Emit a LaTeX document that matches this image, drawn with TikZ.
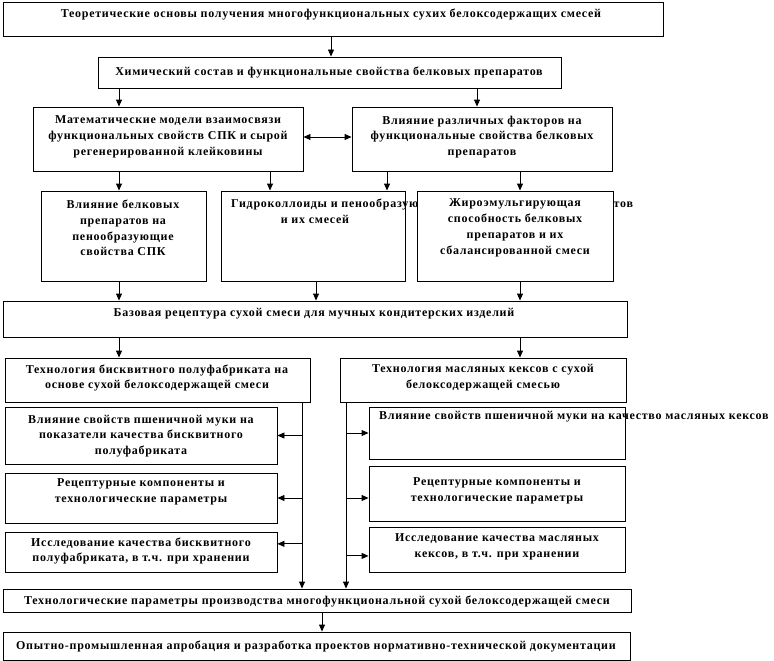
\documentclass[tikz,border=0pt]{standalone}
\usepackage{fontspec}
\setmainfont{Liberation Serif}[LetterSpace=6]
\usetikzlibrary{arrows.meta,calc,fit}
\begin{document}
\begin{tikzpicture}[x=1pt,y=-1pt,
  bx/.style={draw, line width=0.9pt, fill=white, inner sep=0pt},
  tx/.style={font=\bfseries\fontsize{12}{15.8}\selectfont, align=center, inner sep=0pt},
  arr/.style={line width=0.9pt, -{Triangle[length=7pt,width=6pt]}},
  arrb/.style={line width=0.9pt, {Triangle[length=7pt,width=6pt]}-{Triangle[length=7pt,width=6pt]}},
  ln/.style={line width=0.9pt}]
\useasboundingbox[fill=white] (0,0) rectangle (774,661);

% boxes
\node[bx, fit={(3,2) (663,36)}] (top) {};
\node[bx, fit={(98,57) (561,88)}] (chem) {};
\node[bx, fit={(33,107) (303,171)}] (math) {};
\node[bx, fit={(352,107) (612,171)}] (fact) {};
\node[bx, fit={(41,191) (206,281)}] (foam) {};
\node[bx, fit={(221,191) (405,281)}] (hydro) {};
\node[tx, anchor=west] (thydro1) at (231,204) {Гидроколлоиды и пенообразующие свойства белковых препаратов};
\node[bx, fit={(417,191) (613,281)}] (fat) {};
\node[bx, fit={(3,301) (627,337)}] (base) {};
\node[bx, fit={(5,358) (310,402)}] (bisc) {};
\node[bx, fit={(340,358) (626,402)}] (cake) {};
\node[bx, fit={(5,407) (277,464)}] (la) {};
\node[bx, fit={(5,473) (277,523)}] (lb) {};
\node[bx, fit={(5,532) (277,572)}] (lc) {};
\node[bx, fit={(369,407) (625,459)}] (ra) {};
\node[bx, fit={(369,466) (625,521)}] (rb) {};
\node[bx, fit={(369,527) (625,572)}] (rc) {};
\node[bx, fit={(3,589) (631,612)}] (tp) {};
\node[bx, fit={(3,632) (630,660)}] (fin) {};

% texts
\node[tx] (ttop) at (331,15) {Теоретические основы получения многофункциональных сухих белоксодержащих смесей};
\node[tx] (tchem) at (329,72) {Химический состав и функциональные свойства белковых препаратов};
\node[tx] (tmath) at (168,137) {Математические модели взаимосвязи\\функциональных свойств СПК и сырой\\регенерированной клейковины};
\node[tx] (tfact) at (482,137) {Влияние различных факторов на\\функциональные свойства белковых\\препаратов};
\node[tx] (tfoam) at (123,228) {Влияние белковых\\препаратов на\\пенообразующие\\свойства СПК};
\node[tx] (thydro2) at (315,219) {и их смесей};
\node[tx] (tfat) at (515,228) {Жироэмульгирующая\\способность белковых\\препаратов и их\\сбалансированной смеси};
\node[tx] (tbase) at (314,314) {Базовая рецептура сухой смеси для мучных кондитерских изделий};
\node[tx] (tbisc) at (157,378) {Технология бисквитного полуфабриката на\\основе сухой белоксодержащей смеси};
\node[tx] (tcake) at (483,378) {Технология масляных кексов с сухой\\белоксодержащей смесью};
\node[tx] (tla) at (141,436) {Влияние свойств пшеничной муки на\\показатели качества бисквитного\\полуфабриката};
\node[tx] (tlb) at (141,492) {Рецептурные компоненты и\\технологические параметры};
\node[tx] (tlc) at (141,551) {Исследование качества бисквитного\\полуфабриката, в т.ч. при хранении};
\node[tx, anchor=west] (tra) at (379,417) {Влияние свойств пшеничной муки на качество масляных кексов};
\node[tx] (trb) at (497,491) {Рецептурные компоненты и\\технологические параметры};
\node[tx] (trc) at (497,547) {Исследование качества масляных\\кексов, в т.ч. при хранении};
\node[tx] (ttp) at (317,601) {Технологические параметры производства многофункциональной сухой белоксодержащей смеси};
\node[tx] (tfin) at (316,646) {Опытно-промышленная апробация и разработка проектов нормативно-технической документации};

% column coordinates
\coordinate (c119) at (119,0);
\coordinate (c270) at (270,0);
\coordinate (c316) at (316,0);
\coordinate (c322) at (322,0);
\coordinate (c331) at (331,0);
\coordinate (c387) at (387,0);
\coordinate (c477) at (477,0);
\coordinate (c520) at (520,0);
\coordinate (vl) at (302,0);
\coordinate (vr) at (346,0);
\coordinate (r137) at (0,137);

% connectors
\draw[arr] (top.south -| c331) -- (chem.north -| c331);
\draw[arr] (chem.south -| c119) -- (math.north -| c119);
\draw[arr] (chem.south -| c477) -- (fact.north -| c477);
\draw[arrb] (math.east |- r137) -- (fact.west |- r137);
\draw[arr] (math.south -| c119) -- (foam.north -| c119);
\draw[arr] (math.south -| c270) -- (hydro.north -| c270);
\draw[arr] (fact.south -| c387) -- (hydro.north -| c387);
\draw[arr] (fact.south -| c520) -- (fat.north -| c520);
\draw[arr] (foam.south -| c119) -- (base.north -| c119);
\draw[arr] (hydro.south -| c316) -- (base.north -| c316);
\draw[arr] (fat.south -| c520) -- (base.north -| c520);
\draw[arr] (base.south -| c119) -- (bisc.north -| c119);
\draw[arr] (base.south -| c520) -- (cake.north -| c520);
\draw[arr] (bisc.south -| vl) -- (tp.north -| vl);
\draw[arr] (cake.south -| vr) -- (tp.north -| vr);
\draw[arr] (vl |- la.east) -- (la.east);
\draw[arr] (vl |- lb.east) -- (lb.east);
\draw[arr] (vl |- {$(lc.north east)!0.3!(lc.south east)$}) -- ($(lc.north east)!0.3!(lc.south east)$);
\draw[arr] (vr |- ra.west) -- (ra.west);
\draw[arr] (vr |- {$(rb.north west)!0.58!(rb.south west)$}) -- ($(rb.north west)!0.58!(rb.south west)$);
\draw[arr] (vr |- {$(rc.north west)!0.64!(rc.south west)$}) -- ($(rc.north west)!0.64!(rc.south west)$);
\draw[arr] (tp.south -| c322) -- (fin.north -| c322);
\end{tikzpicture}
\end{document}
